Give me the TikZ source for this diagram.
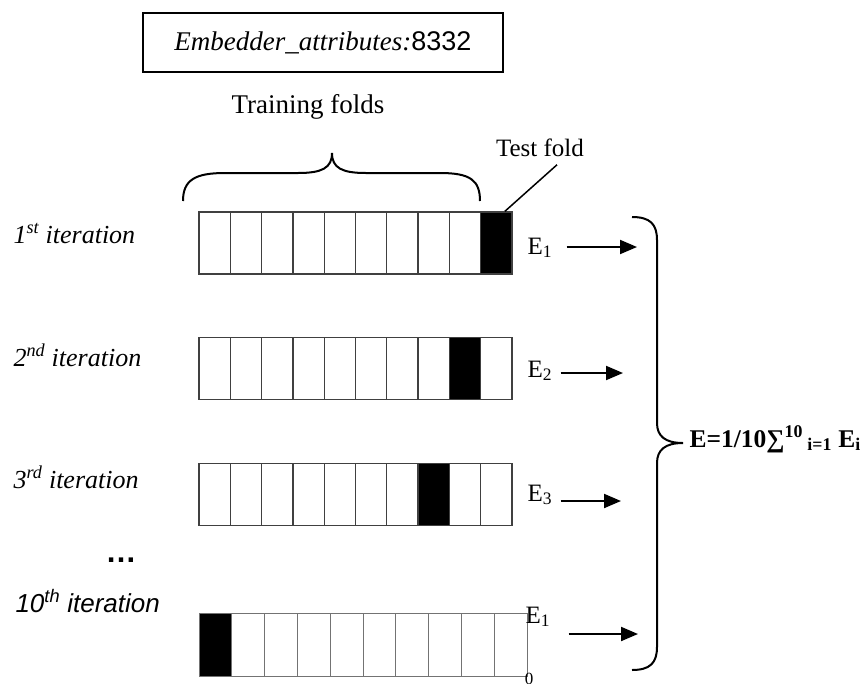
\documentclass[tikz,border=0pt]{standalone}
\usepackage{fontspec}
\setmainfont{Liberation Serif}
\newfontfamily\arialfont{Liberation Sans}
\usetikzlibrary{arrows.meta, positioning}
\tikzset{
x=1pt, y=-1pt, % one unit per pixel of the layout, y grows downwards
fold/.style={draw=black!75, line width=1.3pt, minimum width=31.3pt, minimum height=62pt, inner sep=0pt}, % one cell of a strip
lastfold/.style={fold, draw=black!55, line width=1pt, minimum width=32.8pt, minimum height=63pt}, % cells of the last strip
txt/.style={font=\fontsize{25}{30}\selectfont}, % plain text
big/.style={font=\fontsize{27}{32}\selectfont}, % heading text
iter/.style={anchor=base west, font=\fontsize{26}{31}\selectfont\itshape}, % iteration names
err/.style={txt, anchor=base west}, % the E labels
arr/.style={line width=2pt, -{Triangle[length=17pt, width=14pt]}}, % arrows into the brace
curly/.style={line width=2pt}, % hand drawn braces
}

\begin{document}
\begin{tikzpicture}
\useasboundingbox (0,0) rectangle (865,683);

\node[big, draw, line width=1.3pt, minimum width=360pt, minimum height=59pt] (title) at (323,42.5) {\itshape Embedder\_attributes:\upshape\arialfont 8332};
\node[big, anchor=base] (train) at (308,113) {Training folds};
\node[txt, anchor=base] (tf) at (540,156) {Test fold};

% the strips, black cell = test fold
\foreach \row/\ypos/\hold in {1/243/10, 2/368.5/9, 3/494.5/8} {
  \foreach \cell in {1,...,10} {
    \pgfmathtruncatemacro{\ink}{100*(\cell==\hold)}
    \node[fold, fill=black!\ink] (r\row c\cell) at ({199+31.3*(\cell-0.5)}, \ypos) {};
  }
}
\foreach \cell in {1,...,10} {
  \pgfmathtruncatemacro{\ink}{100*(\cell==1)}
  \node[lastfold, fill=black!\ink] (r4c\cell) at ({199+32.8*(\cell-0.5)}, 644.5) {};
}

\node[iter] (it1) at (10,243) {1\textsuperscript{st} iteration};
\node[iter] (it2) at (10,366) {2\textsuperscript{nd} iteration};
\node[iter] (it3) at (10,488) {3\textsuperscript{rd} iteration};
\node[anchor=base, font=\fontsize{31}{36}\selectfont\arialfont\bfseries] (dots) at (121,562) {\ldots};
\node[iter, font=\fontsize{26}{31}\selectfont\arialfont\itshape] (it10) at (12,612) {10\textsuperscript{th} iteration};

\node[err] (e1) at (524,254) {E\textsubscript{1}};
\node[err] (e2) at (524,377) {E\textsubscript{2}};
\node[err] (e3) at (524,501) {E\textsubscript{3}};
\node[err] (e4) at (522,623) {E\textsubscript{1}};
\node[anchor=north, inner sep=0pt, font=\fontsize{17}{20}\selectfont] (zero) at (529,673) {0};

\coordinate (t1) at (637,247);
\coordinate (t2) at (623,373);
\coordinate (t3) at (621,501);
\coordinate (t4) at (638,634);
\draw[arr, shorten <=11pt] (e1.east |- t1) -- (t1);
\draw[arr, shorten <=5pt] (e2.east |- t2) -- (t2);
\draw[arr, shorten <=5pt] (e3.east |- t3) -- (t3);
\draw[arr, shorten <=15pt] (e4.east |- t4) -- (t4);

% braces
\draw[curly] (183,201) .. controls (183,180) and (195,173) .. (225,173) -- (298,173)
  .. controls (322,173) and (332,168) .. (332,153)
  .. controls (332,168) and (342,173) .. (366,173) -- (440,173)
  .. controls (470,173) and (480,180) .. (480,201);
\coordinate (tip) at (683,443);
\draw[curly] (632,217) .. controls (650,217) and (657,224) .. (657,240) -- (657,423)
  .. controls (657,436) and (665,443) .. (tip)
  .. controls (665,443) and (657,450) .. (657,463) -- (657,647)
  .. controls (657,663) and (650,670) .. (632,670);
\node[anchor=base west, font=\fontsize{25.5}{30}\selectfont\bfseries] (avg) at (686,447) {E=1/10∑\textsuperscript{10}\textsubscript{ i=1} E\textsubscript{i}};

\draw[line width=1.5pt] ([xshift=17pt, yshift=-5pt]tf.south) -- ([xshift=8.5pt]r1c10.north);
\end{tikzpicture}
\end{document}
